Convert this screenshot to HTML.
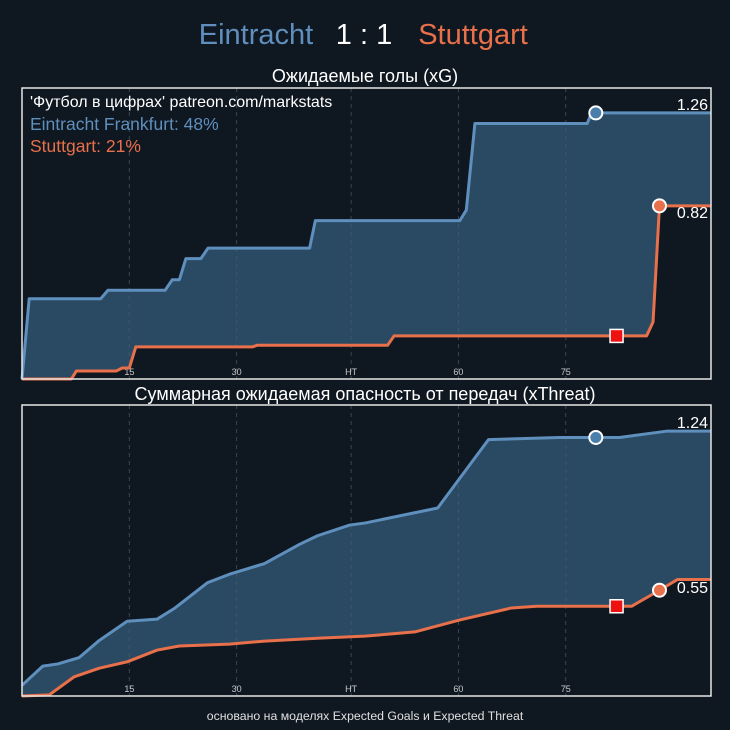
<!DOCTYPE html>
<html><head><meta charset="utf-8"><style>
html,body{margin:0;padding:0;background:#0f1720;}
svg{display:block;font-family:"Liberation Sans","DejaVu Sans",sans-serif;}
</style></head><body>
<svg id="chart" width="730" height="730" viewBox="0 0 730 730">
<rect x="0" y="0" width="730" height="730" fill="#0f1720"/>
<text x="256" y="44" font-size="29" fill="#5f8fbd" text-anchor="middle">Eintracht</text>
<text x="364" y="44" font-size="29" fill="#ffffff" text-anchor="middle">1 : 1</text>
<text x="473" y="44" font-size="29" fill="#e8704a" text-anchor="middle">Stuttgart</text>
<text x="365" y="82" font-size="18" fill="#ffffff" text-anchor="middle">Ожидаемые голы (xG)</text>
<text x="365" y="400" font-size="18" fill="#ffffff" text-anchor="middle">Суммарная ожидаемая опасность от передач (xThreat)</text>
<text x="365" y="720" font-size="12.3" fill="#e0e0e0" text-anchor="middle">основано на моделях Expected Goals и Expected Threat</text>
<g id="top"></g>
<g id="bot"></g>
<text x="30" y="107" font-size="16" fill="#ffffff">'Футбол в цифрах' patreon.com/markstats</text>
<text x="30" y="130" font-size="17.5" fill="#5f8fbd">Eintracht Frankfurt: 48%</text>
<text x="30" y="152" font-size="17.5" fill="#e8704a">Stuttgart: 21%</text>
</svg>
<script>
// ---- data ----
const tickMinutes = [15, 30, 46, 61, 76];
const tickLabels = ["15", "30", "HT", "60", "75"];
const xgHomeMin = [0, 1, 11, 12, 20, 21, 22, 22.9, 25, 26, 40.2, 41, 61.2, 62.1, 63.3, 79, 79.6, 96.3];
const xgHomeVal = [0, 0.38, 0.38, 0.42, 0.42, 0.47, 0.47, 0.57, 0.57, 0.62, 0.62, 0.75, 0.75, 0.80, 1.21, 1.21, 1.26, 1.26];
const xgAwayMin = [0, 6.9, 7.6, 13.2, 14, 15, 15.9, 32.2, 32.9, 51.1, 52, 87.3, 88.2, 89.1, 96.3];
const xgAwayVal = [0, 0, 0.038, 0.038, 0.052, 0.052, 0.152, 0.152, 0.16, 0.16, 0.204, 0.204, 0.27, 0.82, 0.82];
const xtHomeMin = [0, 2.9, 5, 8, 10.8, 14.7, 18.9, 21.3, 25.9, 29, 33.9, 38.8, 41.3, 45.8, 48, 58.1, 65.2, 75.1, 83.5, 90.2, 96.3];
const xtHomeVal = [0.05, 0.14, 0.15, 0.18, 0.26, 0.35, 0.36, 0.41, 0.53, 0.57, 0.62, 0.71, 0.75, 0.80, 0.81, 0.88, 1.20, 1.21, 1.21, 1.24, 1.24];
const xtAwayMin = [0, 3.8, 7.3, 10.8, 14.7, 18.9, 22, 29, 33.9, 41.6, 47.9, 54.9, 61.2, 68.4, 71.9, 85.2, 89.1, 91.6, 96.3];
const xtAwayVal = [0, 0.005, 0.09, 0.13, 0.16, 0.215, 0.234, 0.243, 0.257, 0.271, 0.28, 0.30, 0.356, 0.412, 0.42, 0.42, 0.495, 0.545, 0.545];
const xgGoalHome = [80.2, 1.26], xgGoalAway = [89.1, 0.82], xgCard = [83.1, 0.204];
const xtGoalHome = [80.2, 1.21], xtGoalAway = [89.1, 0.495], xtCard = [83.1, 0.42];
const xgLabels = ["1.26", "0.82"], xtLabels = ["1.24", "0.55"];

const NS = "http://www.w3.org/2000/svg";
const BLUE = "#5f8fbd", ORANGE = "#e8704a", FILL = "#2a4a63";
const X0 = 22, X1 = 711, MAXMIN = 96.3;
function xs(m){ return X0 + (m / MAXMIN) * (X1 - X0); }
function mk(tag, attrs, parent){ const e = document.createElementNS(NS, tag); for (const k in attrs) e.setAttribute(k, attrs[k]); parent.appendChild(e); return e; }

function panel(gid, top, bottom, ymax, hm, hv, am, av, gh, ga, card, labels, labelY){
  const g = document.getElementById(gid);
  const ys = v => bottom - (v / ymax) * (bottom - top);
  let pts = hm.map((m,i)=>xs(m)+","+ys(hv[i]));
  for (let i = am.length-1; i >= 0; i--) pts.push(xs(am[i])+","+ys(av[i]));
  const f = mk("polygon", {points: pts.join(" "), fill: FILL}, g);
  
  
  tickMinutes.forEach((m,i)=>{
    const l = mk("line", {x1: xs(m), x2: xs(m), y1: top, y2: bottom, stroke: "#4a5a6a", "stroke-width": 1, "stroke-dasharray": "4,4", opacity: 0.7}, g);
    
    
    const t = mk("text", {x: xs(m), y: bottom - 4, "font-size": 9, fill: "#c8c8c8", "text-anchor": "middle"}, g);
    t.textContent = tickLabels[i];
    
    
  });
  const la = mk("polyline", {points: am.map((m,i)=>xs(m)+","+ys(av[i])).join(" "), fill: "none", stroke: ORANGE, "stroke-width": 3, "stroke-linejoin": "round"}, g);
  
  
  const lh = mk("polyline", {points: hm.map((m,i)=>xs(m)+","+ys(hv[i])).join(" "), fill: "none", stroke: BLUE, "stroke-width": 3, "stroke-linejoin": "round"}, g);
  
  
  const fr = mk("rect", {x: X0, y: top, width: X1 - X0, height: bottom - top, fill: "none", stroke: "#e6e6e6", "stroke-width": 1.5}, g);
  
  
  const c1 = mk("circle", {cx: xs(gh[0]), cy: ys(gh[1]), r: 6.5, fill: "#4a7fab", stroke: "#ffffff", "stroke-width": 2}, g);
  
  
  const c2 = mk("circle", {cx: xs(ga[0]), cy: ys(ga[1]), r: 6.5, fill: ORANGE, stroke: "#ffffff", "stroke-width": 2}, g);
  
  
  const sq = mk("rect", {x: xs(card[0]) - 6.5, y: ys(card[1]) - 6.5, width: 13, height: 13, fill: "#ee1111", stroke: "#ffffff", "stroke-width": 1.5}, g);
  
  
  const t1 = mk("text", {x: 708, y: labelY[0], "font-size": 16, fill: "#ffffff", "text-anchor": "end"}, g);
  t1.textContent = labels[0];
  
  
  const t2 = mk("text", {x: 708, y: labelY[1], "font-size": 16, fill: "#ffffff", "text-anchor": "end"}, g);
  t2.textContent = labels[1];
  
  
}
panel("top", 88, 379, 1.378, xgHomeMin, xgHomeVal, xgAwayMin, xgAwayVal, xgGoalHome, xgGoalAway, xgCard, xgLabels, [110, 218]);
panel("bot", 405, 696, 1.362, xtHomeMin, xtHomeVal, xtAwayMin, xtAwayVal, xtGoalHome, xtGoalAway, xtCard, xtLabels, [428, 593]);
</script>
</body></html>
